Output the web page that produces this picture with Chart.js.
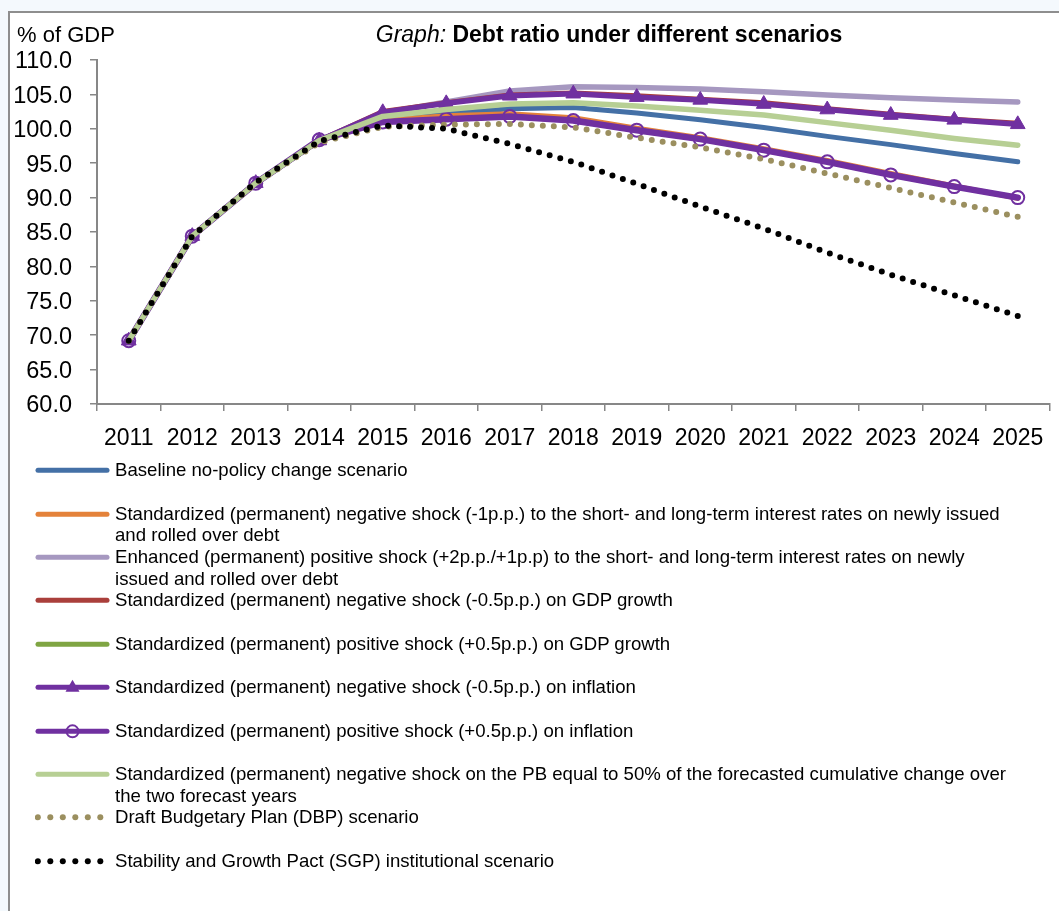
<!DOCTYPE html>
<html>
<head>
<meta charset="utf-8">
<script src="https://cdn.jsdelivr.net/npm/chart.js@4.4.1/dist/chart.umd.min.js"></script>
<style>
  html, body { margin: 0; padding: 0; background: #f4f9fd; overflow: hidden; width: 1059px; height: 911px; }
  #frame { position: absolute; left: 8px; top: 11px; width: 1200px; height: 1000px; background: #ffffff;
           border-left: 2px solid #8e8e8e; border-top: 2px solid #8e8e8e; }
  #chartWrap { position: absolute; left: 0; top: 0; width: 1059px; height: 460px; }
  #legend { position: absolute; left: 0; top: 0; width: 1059px; font-family: "Liberation Sans", Arial, sans-serif;
            font-size: 18.6px; color: #000; }
  .item { position: absolute; left: 0; height: 43.4px; width: 1059px; }
  .item svg { position: absolute; left: 35px; top: 0; }
  .item .txt { position: absolute; left: 115px; top: 0; line-height: 21.7px; white-space: pre; }
</style>
</head>
<body>
<div id="frame"></div>
<div id="chartWrap"><canvas id="c" width="1059" height="460" style="width:1059px;height:460px"></canvas></div>
<div id="legend"></div>
<script>
// ---- Data ----
const years = ['2011','2012','2013','2014','2015','2016','2017','2018','2019','2020','2021','2022','2023','2024','2025'];

const baseline      = [69.2, 84.4, 92.1, 98.3, 101.3, 102.2, 102.9, 103.1, 102.3, 101.3, 100.2, 98.9, 97.7, 96.4, 95.2];
const negInterest   = [69.2, 84.4, 92.1, 98.3, 101.2, 101.9, 102.2, 101.6, 100.1, 98.7, 97.1, 95.4, 93.5, 91.7, 89.9];
const posInterest   = [69.2, 84.4, 92.1, 98.3, 102.3, 103.9, 105.5, 106.1, 106.0, 105.8, 105.4, 104.9, 104.5, 104.2, 103.9];
const negGdp        = [69.2, 84.4, 92.1, 98.3, 102.5, 103.8, 104.9, 105.2, 104.8, 104.3, 103.8, 102.9, 102.1, 101.4, 100.8];
const posGdp        = [69.2, 84.4, 92.1, 98.3, 101.0, 101.4, 101.8, 101.2, 99.8, 98.5, 96.9, 95.2, 93.3, 91.6, 90.0];
const negInflation  = [69.2, 84.4, 92.1, 98.3, 102.4, 103.7, 104.8, 105.1, 104.6, 104.2, 103.6, 102.8, 102.0, 101.3, 100.65];
const posInflation  = [69.2, 84.4, 92.1, 98.4, 101.0, 101.4, 101.8, 101.2, 99.8, 98.5, 96.9, 95.2, 93.3, 91.6, 90.0];
const negPB         = [69.2, 84.4, 92.1, 98.3, 101.8, 102.8, 103.6, 103.8, 103.3, 102.7, 102.0, 100.9, 99.8, 98.6, 97.6];
const dbp           = [69.2, 84.4, 92.1, 98.0, 100.3, 100.6, 100.7, 100.2, 98.7, 97.3, 95.6, 93.5, 91.4, 89.3, 87.2];
const sgp           = [69.2, 84.4, 92.2, 98.2, 100.5, 100.0, 97.8, 95.2, 92.0, 88.7, 85.5, 82.0, 78.8, 75.8, 72.8];

const seriesLabels = [
  'Baseline no-policy change scenario',
  'Standardized (permanent) negative shock (-1p.p.) to the short- and long-term interest rates on newly issued\nand rolled over debt',
  'Enhanced (permanent) positive shock (+2p.p./+1p.p) to the short- and long-term interest rates on newly\nissued and rolled over debt',
  'Standardized (permanent) negative shock (-0.5p.p.) on GDP growth',
  'Standardized (permanent) positive shock (+0.5p.p.) on GDP growth',
  'Standardized (permanent) negative shock (-0.5p.p.) on inflation',
  'Standardized (permanent) positive shock (+0.5p.p.) on inflation',
  'Standardized (permanent) negative shock on the PB equal to 50% of the forecasted cumulative change over\nthe two forecast years',
  'Draft Budgetary Plan (DBP) scenario',
  'Stability and Growth Pact (SGP) institutional scenario'
];
const titleItalic = 'Graph: ';
const titleBold = 'Debt ratio under different scenarios';
const yAxisTitle = '% of GDP';
const yMin = 60, yMax = 110, yStep = 5;

// ---- Styles ----
const seriesData = [baseline, negInterest, posInterest, negGdp, posGdp, negInflation, posInflation, negPB, dbp, sgp];
const styles = [
  { color: '#4470a6', width: 5 },
  { color: '#e4823a', width: 5 },
  { color: '#a698c0', width: 5.5 },
  { color: '#aa3f3b', width: 5 },
  { color: '#7fa543', width: 5 },
  { color: '#7030a0', width: 5.5, marker: 'triangle' },
  { color: '#7030a0', width: 6.5, marker: 'circle' },
  { color: '#b7cf94', width: 5.5 },
  { color: '#9b8f5f', width: 6, dotted: true },
  { color: '#000000', width: 6, dotted: true }
];
const N = seriesData.length;
const FONT = '"Liberation Sans", Arial, sans-serif';

const datasets = seriesData.map((d, i) => {
  const s = styles[i];
  const ds = {
    label: seriesLabels[i].replace('\n', ' '),
    data: d,
    borderColor: s.color,
    borderWidth: s.width,
    tension: 0,
    fill: false,
    order: N - i,
    borderCapStyle: 'round',
    borderJoinStyle: 'round',
    pointRadius: 0,
    pointHoverRadius: 0
  };
  if (s.dotted) ds.borderDash = [0, 11];
  if (s.marker === 'triangle') {
    ds.pointStyle = 'triangle'; ds.pointRadius = 8.5;
    ds.pointBackgroundColor = s.color; ds.pointBorderColor = s.color; ds.pointBorderWidth = 1;
  }
  if (s.marker === 'circle') {
    ds.pointStyle = 'circle'; ds.pointRadius = 6.5;
    ds.pointBackgroundColor = 'rgba(0,0,0,0)'; ds.pointBorderColor = s.color; ds.pointBorderWidth = 2;
  }
  return ds;
});

const axisColor = '#878787';
const textPlugin = {
  id: 'texts',
  afterDraw(chart) {
    const ctx = chart.ctx;
    ctx.save();
    ctx.fillStyle = '#000';
    // y tick labels (digit-centred on tick)
    const ys = chart.scales.y;
    ctx.font = '23.5px ' + FONT;
    ctx.textAlign = 'right';
    ctx.textBaseline = 'alphabetic';
    ys.ticks.forEach(t => {
      const py = ys.getPixelForValue(t.value);
      ctx.fillText(Number(t.value).toFixed(1), 72, py + 8.4);
    });
    // axis title
    ctx.textAlign = 'left';
    ctx.textBaseline = 'middle';
    ctx.font = '22px ' + FONT;
    ctx.fillText(yAxisTitle, 17, 36);
    // chart title
    const fi = 'italic 23px ' + FONT;
    const fb = 'bold 23px ' + FONT;
    ctx.font = fi; const w1 = ctx.measureText(titleItalic).width;
    ctx.font = fb; const w2 = ctx.measureText(titleBold).width;
    const cx = 609;
    const x0 = cx - (w1 + w2) / 2;
    ctx.font = fi; ctx.fillText(titleItalic, x0, 36);
    ctx.font = fb; ctx.fillText(titleBold, x0 + w1, 36);
    ctx.restore();
  }
};

const chart = new Chart(document.getElementById('c'), {
  type: 'line',
  data: { labels: years, datasets },
  options: {
    responsive: false,
    animation: false,
    devicePixelRatio: 1,
    layout: { padding: { top: 60, right: 1, left: 0, bottom: 0 } },
    plugins: { legend: { display: false }, tooltip: { enabled: false }, title: { display: false } },
    scales: {
      x: {
        offset: true,
        grid: { offset: true, drawOnChartArea: false, drawTicks: true, tickLength: 7, color: axisColor, lineWidth: 1.5 },
        border: { display: true, color: axisColor, width: 2 },
        ticks: { color: '#000', font: { family: FONT, size: 23 }, padding: 14, maxRotation: 0, autoSkip: false },
        afterFit(scale) { scale.height = 56; }
      },
      y: {
        min: yMin, max: yMax,
        grid: { drawOnChartArea: false, drawTicks: true, tickLength: 7, color: axisColor, lineWidth: 1.5 },
        border: { display: true, color: axisColor, width: 2 },
        ticks: { stepSize: yStep, display: false },
        afterFit(scale) { scale.width = 97; }
      }
    }
  },
  plugins: [textPlugin]
});

// ---- HTML legend built from the datasets ----
const legend = document.getElementById('legend');
const top0 = 470 - 21.7 / 2;
styles.forEach((s, i) => {
  const item = document.createElement('div');
  item.className = 'item';
  item.style.top = (top0 + 43.4 * i) + 'px';
  const cy = 21.7 / 2 + 0.5;
  let svg = `<svg width="80" height="22" viewBox="0 0 80 22" xmlns="http://www.w3.org/2000/svg">`;
  if (s.dotted) {
    for (let k = 0; k < 6; k++) svg += `<circle cx="${2.8 + k * 12.5}" cy="${cy}" r="3" fill="${s.color}"/>`;
  } else {
    svg += `<line x1="3" y1="${cy}" x2="72" y2="${cy}" stroke="${s.color}" stroke-width="${Math.min(s.width, 5)}" stroke-linecap="round"/>`;
    if (s.marker === 'triangle') svg += `<polygon points="37.5,${cy - 7.5} 44.5,${cy + 4.5} 30.5,${cy + 4.5}" fill="${s.color}"/>`;
    if (s.marker === 'circle') svg += `<circle cx="37.5" cy="${cy}" r="6" fill="none" stroke="${s.color}" stroke-width="2"/>`;
  }
  svg += `</svg>`;
  item.innerHTML = svg;
  const t = document.createElement('div');
  t.className = 'txt';
  t.textContent = seriesLabels[i];
  item.appendChild(t);
  legend.appendChild(item);
});
</script>
</body>
</html>
